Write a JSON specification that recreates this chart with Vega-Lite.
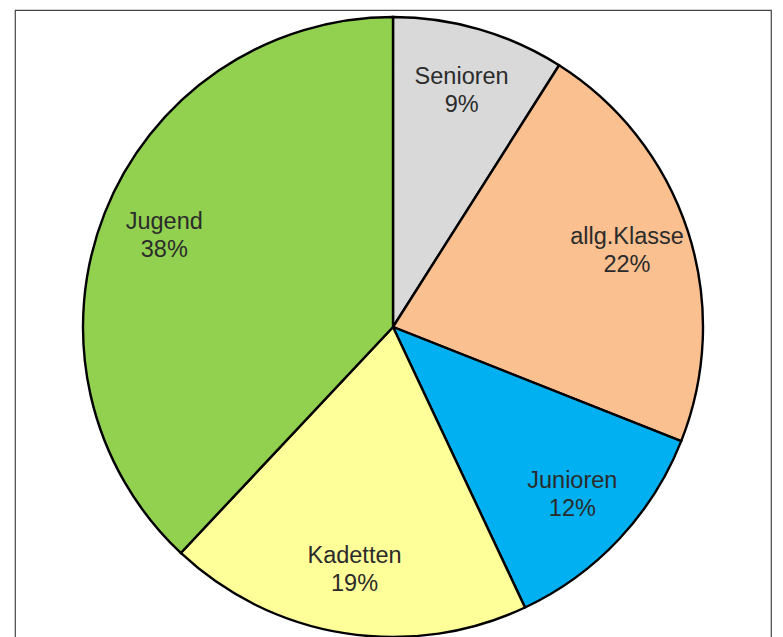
{
  "$schema": "https://vega.github.io/schema/vega-lite/v6.json",
  "width": 756,
  "height": 634,
  "autosize": {"type": "none"},
  "padding": {"left": 15, "top": 10, "right": 12, "bottom": 0},
  "background": "white",
  "view": {"stroke": "#444444", "strokeWidth": 1.2, "fill": "white"},
  "data": {"values": [
    {"i": 1, "group": "Senioren", "share": 9, "pct": "9%"},
    {"i": 2, "group": "allg.Klasse", "share": 22, "pct": "22%"},
    {"i": 3, "group": "Junioren", "share": 12, "pct": "12%"},
    {"i": 4, "group": "Kadetten", "share": 19, "pct": "19%"},
    {"i": 5, "group": "Jugend", "share": 38, "pct": "38%"}
  ]},
  "encoding": {
    "theta": {"field": "share", "type": "quantitative", "stack": true},
    "order": {"field": "i", "type": "quantitative", "sort": "ascending"}
  },
  "layer": [
    {
      "mark": {"type": "arc", "outerRadius": 310, "stroke": "black", "strokeWidth": 2.4},
      "encoding": {
        "color": {
          "field": "group",
          "type": "nominal",
          "legend": null,
          "scale": {
            "domain": ["Senioren", "allg.Klasse", "Junioren", "Kadetten", "Jugend"],
            "range": ["#d9d9d9", "#fac090", "#00b0f0", "#ffff99", "#92d050"]
          }
        }
      }
    },
    {
      "mark": {"type": "text", "radius": 246, "dy": -14, "fontSize": 23.5, "font": "Liberation Sans", "fill": "#2b2b2b", "baseline": "middle", "align": "center"},
      "encoding": {"text": {"field": "group", "type": "nominal"}}
    },
    {
      "mark": {"type": "text", "radius": 246, "dy": 14, "fontSize": 23.5, "font": "Liberation Sans", "fill": "#2b2b2b", "baseline": "middle", "align": "center"},
      "encoding": {"text": {"field": "pct", "type": "nominal"}}
    }
  ]
}
